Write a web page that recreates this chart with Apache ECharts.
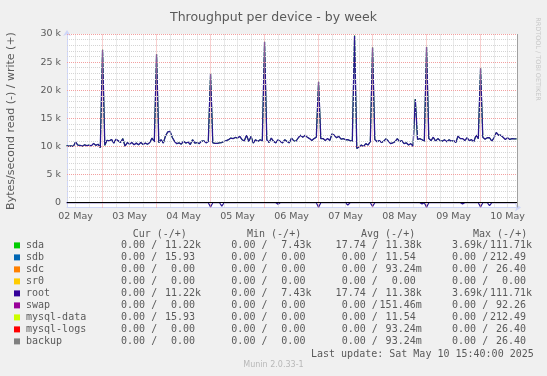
<!DOCTYPE html>
<html><head><meta charset="utf-8">
<script src="https://cdn.jsdelivr.net/npm/echarts@6/dist/echarts.min.js"></script>
<style>html,body{margin:0;padding:0;background:#f0f0f0}#c{width:547px;height:376px}</style>
</head><body><div id="c"></div>
<script>
// ---------- data ----------
const sampleStartHour = 8;          // hours since 02 May 00:00, hourly samples
const writeBps = [
  10150,10050,10100,10000,10800,10250,10200,10050,10300,10150,10250,10100,10550,10200,10400,9800,
  27200,
  10200,11100,11000,11250,10600,11300,11000,10700,11400,10050,10700,10400,10700,10300,10600,10300,10700,10350,10600,10400,10700,11500,10800,
  26400,
  10700,11200,10600,11900,12600,12700,11600,10900,10500,
  10650,10400,10950,10600,10800,10350,11200,10600,10700,10500,10950,11000,10650,10900,
  22900,
  10650,10550,10550,10650,10700,10900,11050,11200,11500,11400,11600,11500,11800,11200,11000,12000,10900,11800,10600,11200,10900,11200,11000,
  28600,
  11200,10700,11500,10900,10650,11200,10900,10650,11200,10900,10650,11500,11000,10950,11550,12000,11650,12000,11650,11400,11050,11400,11650,
  21500,
  11400,11400,11050,11400,11050,12250,12000,11550,11800,11300,11400,11200,11200,11050,10950,
  29700,
  9650,9900,10250,10000,10500,10250,10850,
  27600,
  11250,10850,11050,10700,10950,11400,10950,10500,10650,10850,11400,10850,11050,10500,10650,10250,10500,10050,
  18400,
  11250,11400,11200,10950,
  27700,
  11400,11050,11650,10950,11400,11050,10950,11200,10850,11200,10950,11050,10700,11850,11400,11400,11050,11550,11050,11200,10850,12000,11400,
  23900,
  11650,11300,11550,11550,10950,11550,12500,12000,12000,11650,11250,11550,11250,11400,11350,11350
];
const readDipHours = [72, 77, 102, 120, 133, 144, 166, 168, 184, 192, 196];
const readDipBps   = [750, 600, 250, 800, 400, 650, 200, 800, 200, 750, 500];

const dayLabels  = ['02 May','03 May','04 May','05 May','06 May','07 May','08 May','09 May','10 May'];
const labelHours = [12, 36, 60, 84, 108, 132, 156, 180, 204];
const yTicks      = [0, 5000, 10000, 15000, 20000, 25000, 30000];
const yTickLabels = ['0', '5 k', '10 k', '15 k', '20 k', '25 k', '30 k'];

const devices = ['sda','sdb','sdc','sr0','root','swap','mysql-data','mysql-logs','backup'];
const deviceColors = ['#00cc00','#0066b3','#ff8000','#ffcc00','#330099','#990099','#ccff00','#ff0000','#808080'];
const curRead  = ['  0.00 ','  0.00 ','  0.00 ','  0.00 ','  0.00 ','  0.00 ','  0.00 ','  0.00 ','  0.00 '];
const curWrite = [' 11.22k',' 15.93 ','  0.00 ','  0.00 ',' 11.22k','  0.00 ',' 15.93 ','  0.00 ','  0.00 '];
const minRead  = ['  0.00 ','  0.00 ','  0.00 ','  0.00 ','  0.00 ','  0.00 ','  0.00 ','  0.00 ','  0.00 '];
const minWrite = ['  7.43k','  0.00 ','  0.00 ','  0.00 ','  7.43k','  0.00 ','  0.00 ','  0.00 ','  0.00 '];
const avgRead  = [' 17.74 ','  0.00 ','  0.00 ','  0.00 ',' 17.74 ','  0.00 ','  0.00 ','  0.00 ','  0.00 '];
const avgWrite = [' 11.38k',' 11.54 ',' 93.24m','  0.00 ',' 11.38k','151.46m',' 11.54 ',' 93.24m',' 93.24m'];
const maxRead  = ['  3.69k','  0.00 ','  0.00 ','  0.00 ','  3.69k','  0.00 ','  0.00 ','  0.00 ','  0.00 '];
const maxWrite = ['111.71k','212.49 ',' 26.40 ','  0.00 ','111.71k',' 92.26 ','212.49 ',' 26.40 ',' 26.40 '];
const colHeaders = ['Cur (-/+)','Min (-/+)','Avg (-/+)','Max (-/+)'];

// ---------- build ----------
const hours = writeBps.map((_, i) => sampleStartHour + i);
const writeData = hours.map((h, i) => [h, writeBps[i]]);
const readData = hours.map(h => {
  const k = readDipHours.indexOf(h);
  return [h, k >= 0 ? -readDipBps[k] : 0];
});

const X_MIN = 8.2, X_MAX = 208.2, Y_MIN = -850, Y_MAX = 30000;
const FONT = '"DejaVu Sans", Verdana, sans-serif';
const MONO = '"DejaVu Sans Mono", monospace';
const TXT = '#5a5a5a';

const minorGrid = { color: '#d4d4d4', width: 1, type: [1, 1] };
const majorGrid = { color: '#f2a0a0', width: 1, type: [1, 1] };
const gridLines = [];
for (let h = 12; h < X_MAX; h += 6) {
  gridLines.push({ xAxis: h, lineStyle: (h % 24 === 0) ? majorGrid : minorGrid });
}
for (let v = 1000; v <= Y_MAX; v += 1000) {
  gridLines.push({ yAxis: v, lineStyle: (v % 5000 === 0) ? majorGrid : minorGrid });
}
gridLines.push({ xAxis: X_MAX, lineStyle: { color: '#a0a0a0', width: 1, type: 'solid' } });

// legend graphics
const graphics = [];
const colX = [109, 219.3, 329.6, 440];
const headerX = [132.7, 247, 361, 473];
const readCols = [curRead, minRead, avgRead, maxRead];
const writeCols = [curWrite, minWrite, avgWrite, maxWrite];
const legendFont = '10px ' + MONO;
function txt(x, y, text, opts) {
  return {
    type: 'text', silent: true,
    style: Object.assign({ x: x, y: y, text: text, font: legendFont, fill: TXT,
      textAlign: 'left', align: 'left', textVerticalAlign: 'middle', verticalAlign: 'middle' }, opts || {})
  };
}
colHeaders.forEach((hd, c) => graphics.push(txt(headerX[c], 234.3, hd)));
devices.forEach((d, i) => {
  const y = 245.4 + i * 12;
  graphics.push({ type: 'rect', silent: true, shape: { x: 14, y: y - 3, width: 6, height: 6 },
    style: { fill: deviceColors[i] } });
  graphics.push(txt(26, y, d));
  for (let c = 0; c < 4; c++) {
    graphics.push(txt(colX[c], y, readCols[c][i] + '/'));
    graphics.push(txt(colX[c] + 50, y, writeCols[c][i]));
  }
});
graphics.push(txt(311, 354, 'Last update: Sat May 10 15:40:00 2025'));
graphics.push(txt(273.5, 365, 'Munin 2.0.33-1', { font: '8px ' + FONT, fill: '#b8b8b8', textAlign: 'center', align: 'center' }));
graphics.push({ type: 'text', silent: true, x: 538, y: 59, rotation: -Math.PI / 2,
  style: { x: 0, y: 0, text: 'RRDTOOL / TOBI OETIKER', font: '6.5px ' + FONT, fill: '#c8c8c8',
    textAlign: 'center', align: 'center', textVerticalAlign: 'middle', verticalAlign: 'middle' } });
graphics.push({ type: 'text', silent: true, x: 11, y: 121, rotation: Math.PI / 2,
  style: { x: 0, y: 0, text: 'Bytes/second read (-) / write (+)', font: '11px ' + FONT, fill: TXT,
    textAlign: 'center', align: 'center', textVerticalAlign: 'middle', verticalAlign: 'middle' } });

const axisCol = '#cfd6f8';
const option = {
  backgroundColor: '#f0f0f0',
  animation: false,
  title: { text: 'Throughput per device - by week', left: 'center', top: 6,
    textStyle: { fontFamily: FONT, fontSize: 12.5, fontWeight: 'normal', color: TXT } },
  grid: { left: 67, top: 34, width: 450, height: 173.5, show: true, backgroundColor: '#ffffff', borderWidth: 0 },
  xAxis: {
    type: 'value', min: X_MIN, max: X_MAX,
    splitLine: { show: false }, axisTick: { show: false },
    axisLine: { show: true, onZero: false, lineStyle: { color: axisCol, width: 1 },
      symbol: ['none', 'arrow'], symbolSize: [6, 6], symbolOffset: [0, 4] },
    axisLabel: { customValues: labelHours, formatter: v => dayLabels[labelHours.indexOf(v)] || '',
      fontFamily: FONT, fontSize: 9.5, color: TXT, margin: 4 }
  },
  yAxis: {
    type: 'value', min: Y_MIN, max: Y_MAX,
    splitLine: { show: false }, axisTick: { show: false },
    axisLine: { show: true, onZero: false, lineStyle: { color: axisCol, width: 1 },
      symbol: ['none', 'arrow'], symbolSize: [6, 6], symbolOffset: [0, 4] },
    axisLabel: { customValues: yTicks, formatter: v => yTickLabels[yTicks.indexOf(v)] || '',
      fontFamily: FONT, fontSize: 9.5, color: TXT, margin: 6 }
  },
  graphic: graphics,
  series: [
    { type: 'line', data: [], z: 1, silent: true,
      markLine: { silent: true, symbol: ['none', 'none'], label: { show: false }, animation: false, data: gridLines } },
    { name: 'sda', type: 'line', data: writeData, showSymbol: false, z: 2,
      lineStyle: { color: '#00cc00', width: 1 } },
    { name: 'root', type: 'line', data: writeData, showSymbol: false, z: 3,
      lineStyle: { color: '#2a1690', width: 1.3 } },
    { name: 'root read', type: 'line', data: readData, showSymbol: false, z: 3, clip: false,
      lineStyle: { color: '#2a1690', width: 1.2 } },
    { type: 'line', data: [], z: 5, silent: true,
      markLine: { silent: true, symbol: ['none', 'none'], label: { show: false }, animation: false,
        data: [{ yAxis: 0, lineStyle: { color: '#000000', width: 1.2, type: 'solid' } }] } }
  ]
};
echarts.init(document.getElementById('c')).setOption(option);
</script></body></html>
